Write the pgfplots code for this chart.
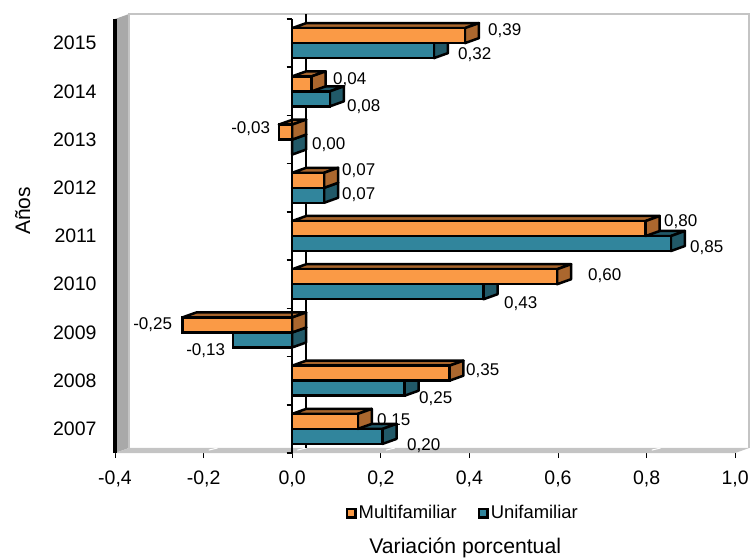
\documentclass[border=0pt]{standalone}
\usepackage{pgfplots}
\usepackage{pgfplotstable}
\usepackage{fontspec}
\setmainfont{Liberation Sans}
\pgfplotsset{compat=1.18}
\definecolor{org}{HTML}{FA9A46}
\definecolor{orgtop}{HTML}{A8652C}
\definecolor{orgside}{HTML}{AB672E}
\definecolor{teal1}{HTML}{31859C}
\definecolor{tealtop}{HTML}{215968}
\definecolor{tealside}{HTML}{215968}
\definecolor{wall}{HTML}{A9A9A9}
\definecolor{floorc}{HTML}{C4C4C4}
\pgfplotstableread{
y multi uni
0.5 0.148 0.204
1.5 0.355 0.254
2.5 -0.248 -0.134
3.5 0.598 0.432
4.5 0.798 0.855
5.5 0.072 0.072
6.5 -0.03 0.00
7.5 0.044 0.085
8.5 0.39 0.32
}\data
\newcommand\lbl[3]{\node[font=\fontsize{17}{18}\selectfont,inner sep=0pt] at (axis cs:{(#1-292.5)/443},{(453-#2-1)/48.22}) {#3};}
% #1 value, #2 y bottom, #3 top colour, #4 side colour
\newcommand\faces[4]{%
 \pgfmathsetmacro\mm{max(#1,0)}%
 \pgfmathsetmacro\xa{#1+0.0316}%
 \pgfmathsetmacro\xb{\mm+0.0316}%
 \pgfmathsetmacro\ya{#2+0.311}%
 \pgfmathsetmacro\yb{#2+0.104}%
 \pgfmathsetmacro\yc{#2+0.415}%
 \edef\tmp{\noexpand\addplot[fill=#3,draw=black,line width=2.5pt,line join=round,forget plot] coordinates {(#1,\ya) (\xa,\yc) (0.0316,\yc) (0,\ya)} -- cycle;
 \noexpand\addplot[fill=#4,draw=black,line width=2.5pt,line join=round,forget plot] coordinates {(\mm,#2) (\xb,\yb) (\xb,\yc) (\mm,\ya)} -- cycle;}%
 \tmp}
\begin{document}
\begin{tikzpicture}[x=1pt,y=1pt]
\useasboundingbox (0,0) rectangle (751,558);
\begin{axis}[
  at={(115pt,105pt)},anchor=south west,
  scale only axis,width=620.2pt,height=434pt,
  xmin=-0.4,xmax=1.0,ymin=0,ymax=9,clip=false,
  axis line style={draw=none},
  xtick={-0.4,-0.2,0,0.2,0.4,0.6,0.8,1.0},
  xticklabels={{-0,4},{-0,2},{0,0},{0,2},{0,4},{0,6},{0,8},{1,0}},
  ytick={0.5,1.5,...,8.5},
  yticklabels={2007,2008,2009,2010,2011,2012,2013,2014,2015},
  tick label style={font=\fontsize{19.5}{21}\selectfont},
  xtick pos=bottom,ytick pos=left,tick align=outside,
  major tick length=5pt,
  xtick style={black,line width=1pt},
  ytick style={draw=none},
  yticklabel style={xshift=-10pt},
  xticklabel style={yshift=-9pt},
  legend style={at={(axis cs:{(463-292.5)/443},{(453-513)/48.22})},anchor=center,draw=none,fill=none,
    legend columns=2,font=\fontsize{18.4}{20}\selectfont,
    /tikz/every even column/.append style={column sep=19pt},
    inner sep=0pt,outer sep=0pt,
    legend cell align=left},
  legend image code/.code={\draw[#1,line width=2.5pt] (0pt,-4.25pt) rectangle (8.5pt,4.25pt);},
]
\addlegendimage{fill=org,draw=black}\addlegendentry{Multifamiliar}
\addlegendimage{fill=teal1,draw=black}\addlegendentry{Unifamiliar}
% walls
\addplot[fill=wall,draw=none,forget plot] coordinates {(-0.4,0) (-0.3684,0.104) (-0.3684,9.104) (-0.4,9)} -- cycle;
\addplot[fill=floorc,draw=none,forget plot] coordinates {(-0.4,0) (-0.3684,0.104) (1.0316,0.104) (1,0)} -- cycle;
\addplot[draw=floorc,line width=2.5pt,forget plot] coordinates {(-0.3684,0.104) (-0.3684,9.104) (1.0316,9.104) (1.0316,0.104)};
\addplot[draw=black,line width=3.5pt,forget plot] coordinates {(-0.4,0) (-0.4,9)};
\addplot[draw=white,line width=1pt,forget plot] coordinates {(-0.1884,0.06) (-0.1684,0.104)};
\addplot[draw=white,line width=1pt,forget plot] coordinates {(0.0116,0.06) (0.0316,0.104)};
\addplot[draw=white,line width=1pt,forget plot] coordinates {(0.2116,0.06) (0.2316,0.104)};
\addplot[draw=white,line width=1pt,forget plot] coordinates {(0.8116,0.06) (0.8316,0.104)};
\addplot[draw=black,line width=2.2pt,forget plot] coordinates {(0.0316,0.104) (0.0316,9.104)};
% Unifamiliar
\pgfplotsforeachungrouped \i in {0,...,8}{%
  \pgfplotstablegetelem{\i}{uni}\of\data \let\vv\pgfplotsretval
  \pgfplotstablegetelem{\i}{y}\of\data \let\yy\pgfplotsretval
  \pgfmathsetmacro\yy{\yy-0.311}%
  \faces{\vv}{\yy}{tealtop}{tealside}%
}
\addplot[xbar,bar width=15pt,bar shift=-7.5pt,fill=teal1,draw=black,line width=2.5pt,forget plot] table[x=uni,y=y] {\data};
% Multifamiliar
\pgfplotsforeachungrouped \i in {0,...,8}{%
  \pgfplotstablegetelem{\i}{multi}\of\data \let\vv\pgfplotsretval
  \pgfplotstablegetelem{\i}{y}\of\data \let\yy\pgfplotsretval
  \faces{\vv}{\yy}{orgtop}{orgside}%
}
\addplot[xbar,bar width=15pt,bar shift=7.5pt,fill=org,draw=black,line width=2.5pt,forget plot] table[x=multi,y=y] {\data};
% front zero line with ticks
\addplot[draw=black,line width=2.2pt,forget plot] coordinates {(0,0) (0,9)};
\pgfplotsinvokeforeach{0,1,...,9}{\addplot[draw=black,line width=1.5pt,forget plot] coordinates {(-0.0125,#1) (0,#1)};}
\lbl{505}{30}{0,39}\lbl{475}{54}{0,32}
\lbl{350}{79}{0,04}\lbl{364}{106}{0,08}
\lbl{251}{128}{-0,03}\lbl{329}{144}{0,00}
\lbl{359}{170}{0,07}\lbl{359}{194}{0,07}
\lbl{681}{221}{0,80}\lbl{707}{247}{0,85}
\lbl{605}{275}{0,60}\lbl{521}{303}{0,43}
\lbl{153}{324}{-0,25}\lbl{206}{350}{-0,13}
\lbl{483}{370}{0,35}\lbl{436}{398}{0,25}
\lbl{394}{420}{0,15}\lbl{424}{445}{0,20}
\node[font=\fontsize{21.2}{23}\selectfont,inner sep=0pt,anchor=base] at (axis cs:{(465.5-292.5)/443},{(453-553)/48.22}) {Variación porcentual};
\node[font=\fontsize{21}{23}\selectfont,inner sep=0pt,rotate=90,anchor=base] at (axis cs:{(30.5-292.5)/443},{(453-211)/48.22}) {Años};
\end{axis}
\end{tikzpicture}
\end{document}
